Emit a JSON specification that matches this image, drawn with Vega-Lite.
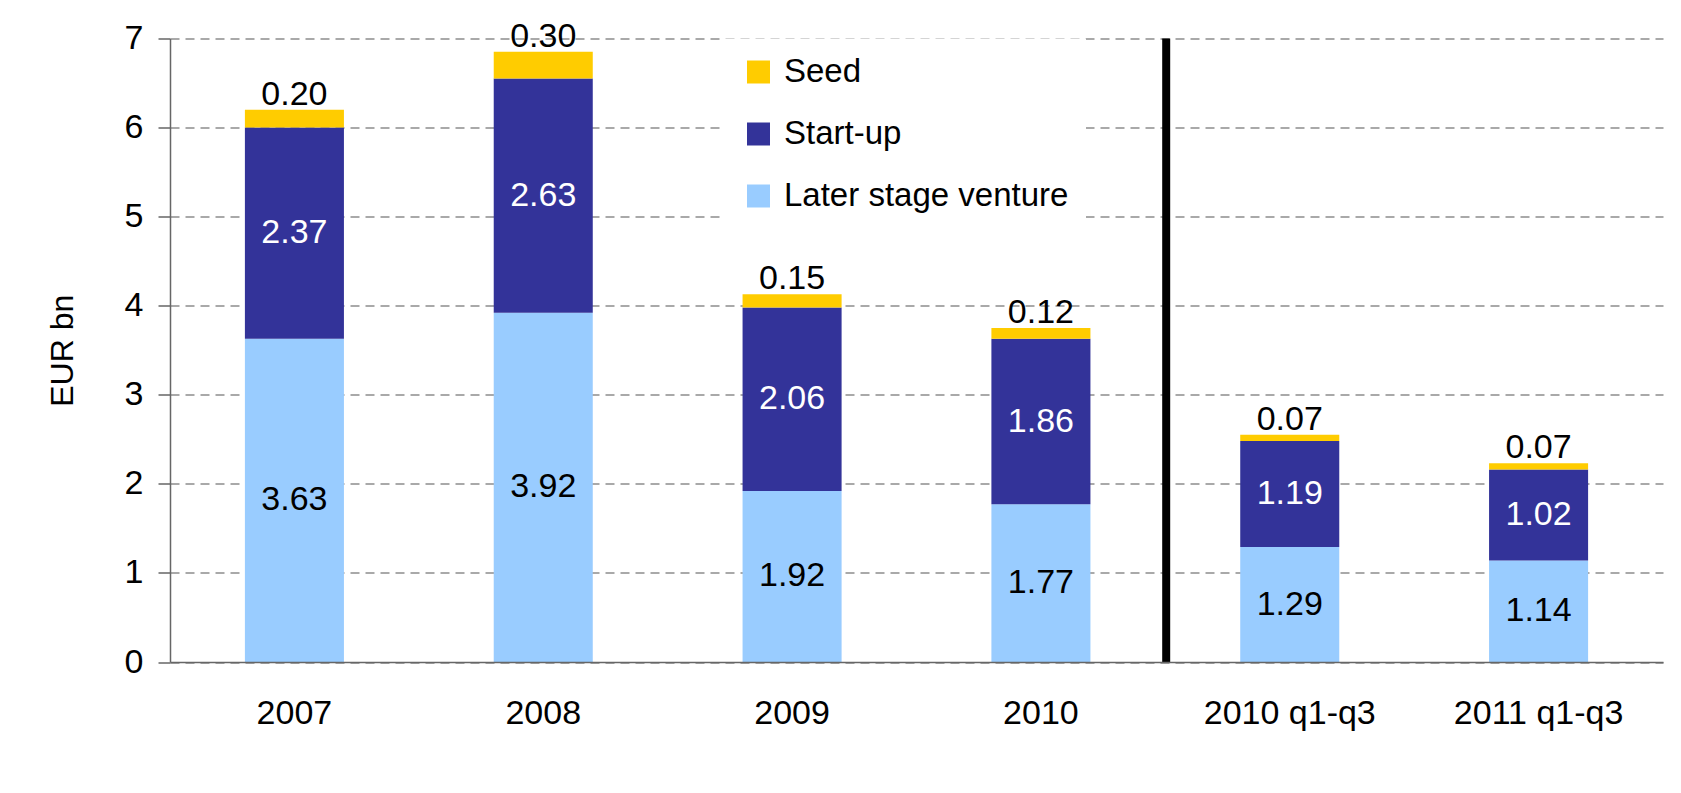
{
  "$schema": "https://vega.github.io/schema/vega-lite/v6.json",
  "width": 1493,
  "height": 623.5,
  "autosize": {"type": "none"},
  "padding": {"left": 170, "top": 38.5, "right": 18, "bottom": 131},
  "background": "white",
  "config": {"font": "Liberation Sans", "view": {"stroke": null}},
  "data": {
    "values": [
      {"period": "2007", "stage": "Later stage venture", "ord": 1, "value": 3.63},
      {"period": "2007", "stage": "Start-up", "ord": 2, "value": 2.37},
      {"period": "2007", "stage": "Seed", "ord": 3, "value": 0.20},
      {"period": "2008", "stage": "Later stage venture", "ord": 1, "value": 3.92},
      {"period": "2008", "stage": "Start-up", "ord": 2, "value": 2.63},
      {"period": "2008", "stage": "Seed", "ord": 3, "value": 0.30},
      {"period": "2009", "stage": "Later stage venture", "ord": 1, "value": 1.92},
      {"period": "2009", "stage": "Start-up", "ord": 2, "value": 2.06},
      {"period": "2009", "stage": "Seed", "ord": 3, "value": 0.15},
      {"period": "2010", "stage": "Later stage venture", "ord": 1, "value": 1.77},
      {"period": "2010", "stage": "Start-up", "ord": 2, "value": 1.86},
      {"period": "2010", "stage": "Seed", "ord": 3, "value": 0.12},
      {"period": "2010 q1-q3", "stage": "Later stage venture", "ord": 1, "value": 1.29},
      {"period": "2010 q1-q3", "stage": "Start-up", "ord": 2, "value": 1.19},
      {"period": "2010 q1-q3", "stage": "Seed", "ord": 3, "value": 0.07},
      {"period": "2011 q1-q3", "stage": "Later stage venture", "ord": 1, "value": 1.14},
      {"period": "2011 q1-q3", "stage": "Start-up", "ord": 2, "value": 1.02},
      {"period": "2011 q1-q3", "stage": "Seed", "ord": 3, "value": 0.07}
    ]
  },
  "layer": [
    {
      "mark": {"type": "bar"},
      "encoding": {
        "x": {
          "field": "period", "type": "nominal",
          "sort": ["2007", "2008", "2009", "2010", "2010 q1-q3", "2011 q1-q3"],
          "scale": {"paddingInner": 0.602, "paddingOuter": 0.301},
          "axis": {"title": null, "labelAngle": 0, "labelFontSize": 34, "labelColor": "black", "ticks": false, "tickSize": 0, "labelPadding": 34, "domainColor": "#666", "domainWidth": 1.5, "zindex": 1}
        },
        "y": {
          "field": "value", "type": "quantitative",
          "scale": {"domain": [0, 7], "nice": false},
          "axis": {"values": [0, 1, 2, 3, 4, 5, 6, 7], "format": "d", "title": "EUR bn", "titleFontSize": 32, "titleFontWeight": "normal", "titleColor": "black", "titlePadding": 45, "labelFontSize": 34, "labelColor": "black", "labelPadding": 15, "tickSize": 12, "tickColor": "#666", "tickWidth": 1.5, "domainColor": "#666", "domainWidth": 1.5, "gridColor": "#555", "gridDash": [9, 6], "gridWidth": 1.2}
        },
        "color": {
          "field": "stage", "type": "nominal",
          "scale": {"domain": ["Seed", "Start-up", "Later stage venture"], "range": ["#FFCC00", "#333399", "#99CCFF"]},
          "legend": {"title": null, "orient": "none", "legendX": 555, "legendY": 0, "symbolType": "square", "symbolSize": 529, "symbolStrokeWidth": 0, "symbolOpacity": 1, "labelFontSize": 33, "labelColor": "black", "labelOffset": 9, "rowPadding": 28, "padding": 17, "fillColor": "white", "labelLimit": 400}
        },
        "order": {"field": "ord", "type": "quantitative"}
      }
    },
    {
      "transform": [{"filter": "datum.stage !== 'Seed'"}],
      "mark": {"type": "text", "fontSize": 34},
      "encoding": {
        "x": {"field": "period", "type": "nominal"},
        "y": {"field": "value", "type": "quantitative", "stack": "zero", "bandPosition": 0.5},
        "detail": {"field": "stage"},
        "order": {"field": "ord", "type": "quantitative"},
        "text": {"field": "value", "type": "quantitative", "format": ".2f"},
        "color": {"condition": {"test": "datum.stage === 'Start-up'", "value": "white"}, "value": "black"}
      }
    },
    {
      "mark": {"type": "text", "fontSize": 34, "baseline": "alphabetic", "dy": -5, "color": "black"},
      "encoding": {
        "x": {"field": "period", "type": "nominal"},
        "y": {"field": "value", "type": "quantitative", "stack": "zero"},
        "detail": {"field": "stage"},
        "order": {"field": "ord", "type": "quantitative"},
        "text": {"condition": {"test": "datum.stage === 'Seed'", "field": "value", "type": "quantitative", "format": ".2f"}, "value": ""}
      }
    },
    {
      "transform": [{"filter": "datum.period === '2010' && datum.stage === 'Seed'"}],
      "mark": {"type": "rule", "color": "black", "strokeWidth": 8},
      "encoding": {
        "x": {"field": "period", "type": "nominal", "bandPosition": 1.765},
        "y": {"datum": 0, "type": "quantitative"},
        "y2": {"datum": 7}
      }
    }
  ]
}
